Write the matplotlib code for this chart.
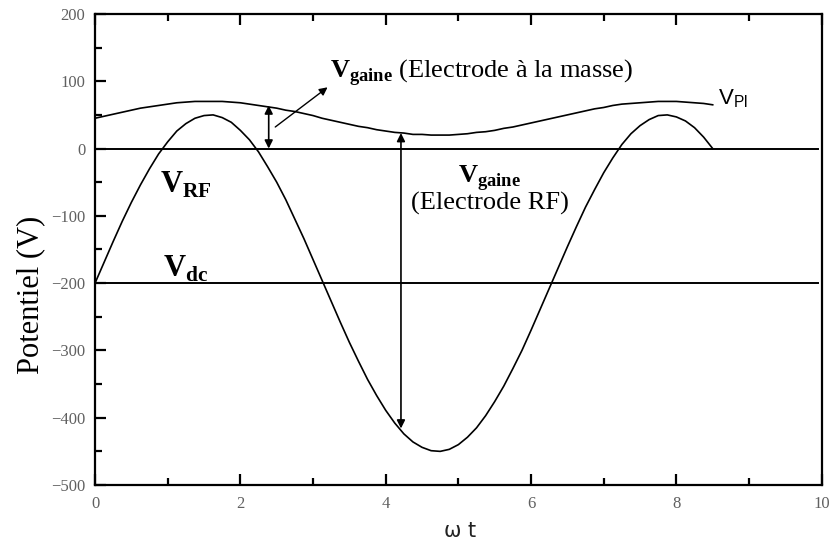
import matplotlib
matplotlib.use("Agg")
import matplotlib.pyplot as plt
from matplotlib.ticker import MultipleLocator

plt.rcParams['mathtext.fontset'] = 'custom'
plt.rcParams['mathtext.rm'] = 'Liberation Serif'
plt.rcParams['mathtext.bf'] = 'Liberation Serif:bold'
plt.rcParams['mathtext.sf'] = 'Liberation Sans'
plt.rcParams['axes.unicode_minus'] = True

# Phase omega*t
wt = [0.0, 0.125, 0.25, 0.375, 0.5, 0.625, 0.75, 0.875,
      1.0, 1.125, 1.25, 1.375, 1.5, 1.625, 1.75, 1.875,
      2.0, 2.125, 2.25, 2.375, 2.5, 2.625, 2.75, 2.875,
      3.0, 3.125, 3.25, 3.375, 3.5, 3.625, 3.75, 3.875,
      4.0, 4.125, 4.25, 4.375, 4.5, 4.625, 4.75, 4.875,
      5.0, 5.125, 5.25, 5.375, 5.5, 5.625, 5.75, 5.875,
      6.0, 6.125, 6.25, 6.375, 6.5, 6.625, 6.75, 6.875,
      7.0, 7.125, 7.25, 7.375, 7.5, 7.625, 7.75, 7.875,
      8.0, 8.125, 8.25, 8.375, 8.5]
# RF electrode potential (V)
v_rf = [-200, -169, -138, -108, -80, -54, -30, -8,
        10, 26, 37, 45, 49, 50, 46, 39,
        27, 13, -5, -27, -50, -76, -105, -134,
        -165, -196, -227, -258, -288, -316, -343, -367,
        -389, -408, -424, -436, -444, -449, -450, -447,
        -440, -429, -415, -397, -376, -353, -327, -300,
        -270, -239, -208, -177, -146, -116, -87, -61,
        -36, -14, 6, 22, 34, 43, 49, 50,
        47, 41, 31, 17, 0]
# Plasma potential (V)
v_pl = [45, 48, 51, 54, 57, 60, 62, 64,
        66, 68, 69, 70, 70, 70, 70, 69,
        68, 66, 64, 62, 60, 57, 55, 52,
        49, 45, 42, 39, 36, 33, 31, 28,
        26, 24, 23, 21, 21, 20, 20, 20,
        21, 22, 24, 25, 27, 30, 32, 35,
        38, 41, 44, 47, 50, 53, 56, 59,
        61, 64, 66, 67, 68, 69, 70, 70,
        70, 69, 68, 67, 65]

v_ground = 0
v_dc = -200
x_ticks = [0, 2, 4, 6, 8, 10]
y_ticks = [-500, -400, -300, -200, -100, 0, 100, 200]

# Sheath voltage markers: (omega*t, lower V, upper V)
sheath_ground = (2.39, 0, 64)
sheath_rf = (4.21, -416, 23)

fig = plt.figure(figsize=(8.3, 5.58), dpi=100)
ax = fig.add_axes([0.1145, 0.1308, 0.8755, 0.8442])

ax.plot(wt, v_rf, color='black', lw=1.2)
ax.plot(wt, v_pl, color='black', lw=1.2)
ax.plot([0, 9.95], [v_ground, v_ground], color='black', lw=1.4)
ax.plot([0, 9.95], [v_dc, v_dc], color='black', lw=1.4)

ax.set_xlim(0, 10)
ax.set_ylim(-500, 200)
ax.set_xticks(x_ticks)
ax.set_yticks(y_ticks)
ax.xaxis.set_minor_locator(MultipleLocator(1))
ax.yaxis.set_minor_locator(MultipleLocator(50))
ax.tick_params(which='both', direction='in', width=1.6, colors='black',
               labelcolor='#606060', labelsize=12)
ax.tick_params(which='major', length=8)
ax.tick_params(which='minor', length=5)
ax.tick_params(axis='x', pad=8)
ax.tick_params(axis='y', pad=7)
ax.tick_params(top=True, right=False, which='both')
for lab in ax.get_xticklabels() + ax.get_yticklabels():
    lab.set_family('Liberation Serif')
for s in ax.spines.values():
    s.set_linewidth(1.6)

ax.set_xlabel('ω t', fontsize=15, family='DejaVu Sans', color='#222222')
ax.xaxis.set_label_coords(0.503, -0.076)
ax.set_ylabel('Potentiel (V)', fontsize=22, family='Liberation Serif')
ax.yaxis.set_label_coords(-0.068, 0.403)

# Sheath arrows
arrow_kw = dict(arrowstyle='<|-|>', color='black', lw=1.2, mutation_scale=12,
                shrinkA=0, shrinkB=0)
xg, lo, hi = sheath_ground
ax.annotate('', xy=(xg, hi), xytext=(xg, lo), arrowprops=arrow_kw)
xr, lo, hi = sheath_rf
ax.annotate('', xy=(xr, lo), xytext=(xr, hi), arrowprops=arrow_kw)
ax.annotate('', xy=(3.2, 91), xytext=(2.48, 32),
            arrowprops=dict(arrowstyle='-|>', color='black', lw=1.0,
                            mutation_scale=12, shrinkA=0, shrinkB=0))

# Labels
ax.text(3.23, 105, r'$\mathbf{V}_{\mathbf{gaine}}$ (Electrode à la masse)',
        fontsize=19, family='Liberation Serif', va='baseline', ha='left')
ax.text(5.43, -50, r'$\mathbf{V}_{\mathbf{gaine}}$', fontsize=19,
        family='Liberation Serif', va='baseline', ha='center')
ax.text(5.43, -91, '(Electrode RF)', fontsize=19,
        family='Liberation Serif', va='baseline', ha='center')
ax.text(0.9, -66, r'$\mathbf{V}_{\mathbf{RF}}$', fontsize=22,
        va='baseline', ha='left')
ax.text(0.94, -191, r'$\mathbf{V}_{\mathbf{dc}}$', fontsize=22,
        va='baseline', ha='left')
ax.text(8.57, 65, r'$\mathsf{V}_{\mathsf{Pl}}$', fontsize=16,
        va='baseline', ha='left')

fig.savefig('out.png', dpi=100)
